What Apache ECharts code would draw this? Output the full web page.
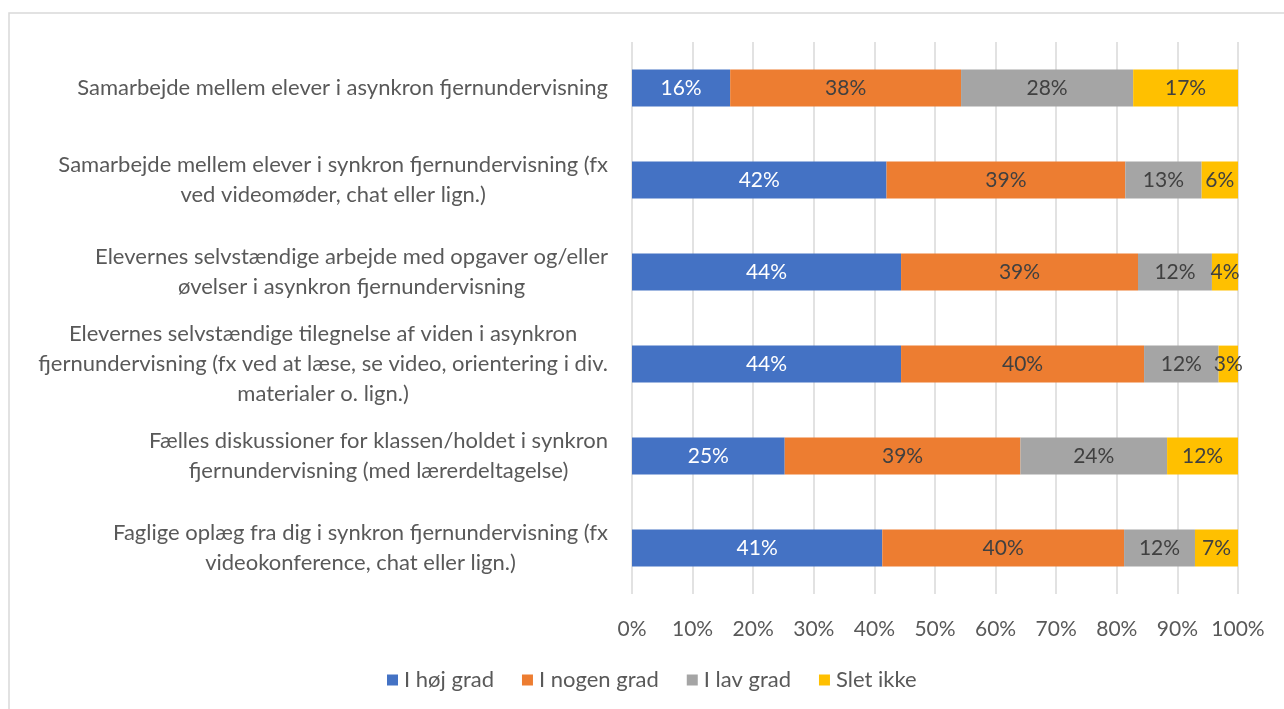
<!DOCTYPE html>
<html>
<head>
<meta charset="utf-8">
<script src="https://cdn.jsdelivr.net/npm/echarts@6/dist/echarts.min.js"></script>
<style>
  html, body { margin: 0; padding: 0; background: #fff; }
  #chart { width: 1284px; height: 709px; }
</style>
</head>
<body>
<div id="chart"></div>
<script>
// categories, top to bottom
const categories = [
  'Samarbejde mellem elever i asynkron fjernundervisning',
  'Samarbejde mellem elever i synkron fjernundervisning (fx\nved videomøder, chat eller lign.)',
  'Elevernes selvstændige arbejde med opgaver og/eller\nøvelser i asynkron fjernundervisning',
  'Elevernes selvstændige tilegnelse af viden i asynkron\nfjernundervisning (fx ved at læse, se video, orientering i div.\nmaterialer o. lign.)',
  'Fælles diskussioner for klassen/holdet i synkron\nfjernundervisning (med lærerdeltagelse)',
  'Faglige oplæg fra dig i synkron fjernundervisning (fx\nvideokonference, chat eller lign.)'
];

const seriesNames = ['I høj grad', 'I nogen grad', 'I lav grad', 'Slet ikke'];

// shares in percent
const hoejGrad  = [16.2, 42.0, 44.4, 44.4, 25.2, 41.3];
const nogenGrad = [38.1, 39.4, 39.1, 40.1, 38.9, 39.9];
const lavGrad   = [28.4, 12.6, 12.2, 12.3, 24.2, 11.7];
const sletIkke  = [17.3,  6.0,  4.3,  3.2, 11.7,  7.1];

const xTicks = [0, 10, 20, 30, 40, 50, 60, 70, 80, 90, 100];

const colors = ['#4472c4', '#ed7d31', '#a5a5a5', '#ffc000'];
const labelColors = ['#ffffff', '#404040', '#404040', '#404040'];
const font = 'Lato, "Open Sans", sans-serif';

let chart = echarts.init(document.getElementById('chart'));

const seriesData = [hoejGrad, nogenGrad, lavGrad, sletIkke];

let options = {
  animation: false,
  color: colors,
  textStyle: { fontFamily: font },
  graphic: [{
    type: 'rect',
    shape: { x: 9, y: 13, width: 1300, height: 720 },
    style: { fill: 'none', stroke: '#d9d9d9', lineWidth: 1.5 },
    silent: true
  }],
  grid: {
    left: 632,
    right: 46,
    top: 42,
    height: 552
  },
  legend: {
    bottom: 13,
    left: 382,
    itemWidth: 11,
    itemHeight: 11,
    itemGap: 28,
    icon: 'rect',
    data: seriesNames,
    textStyle: { color: '#595959', fontSize: 22, fontFamily: font, padding: [0, 0, 0, 1] }
  },
  xAxis: {
    type: 'value',
    min: xTicks[0],
    max: xTicks[xTicks.length - 1],
    interval: 10,
    axisLine: { show: false },
    axisTick: { show: false },
    splitLine: { show: true, lineStyle: { color: '#d9d9d9', width: 1.5 } },
    axisLabel: {
      color: '#595959',
      fontSize: 21,
      fontFamily: font,
      margin: 25,
      formatter: v => v + '%'
    }
  },
  yAxis: {
    type: 'category',
    inverse: true,
    data: categories,
    axisLine: { show: false },
    axisTick: { show: false },
    axisLabel: {
      margin: 24,
      align: 'right',
      color: '#595959',
      fontSize: 22,
      fontFamily: font,
      lineHeight: 30,
      formatter: v => v.split('\n').map(l => '{c|' + l + '}').join('\n'),
      rich: {
        c: { align: 'center', color: '#595959', fontSize: 22, fontFamily: font, lineHeight: 30 }
      }
    }
  },
  series: seriesNames.map((name, i) => ({
    name: name,
    type: 'bar',
    stack: 'total',
    barWidth: '40%',
    data: seriesData[i],
    label: {
      show: true,
      position: 'inside',
      color: labelColors[i],
      fontSize: 21,
      fontFamily: font,
      formatter: p => Math.round(p.value) + '%'
    }
  }))
};

chart.setOption(options);
</script>
</body>
</html>
